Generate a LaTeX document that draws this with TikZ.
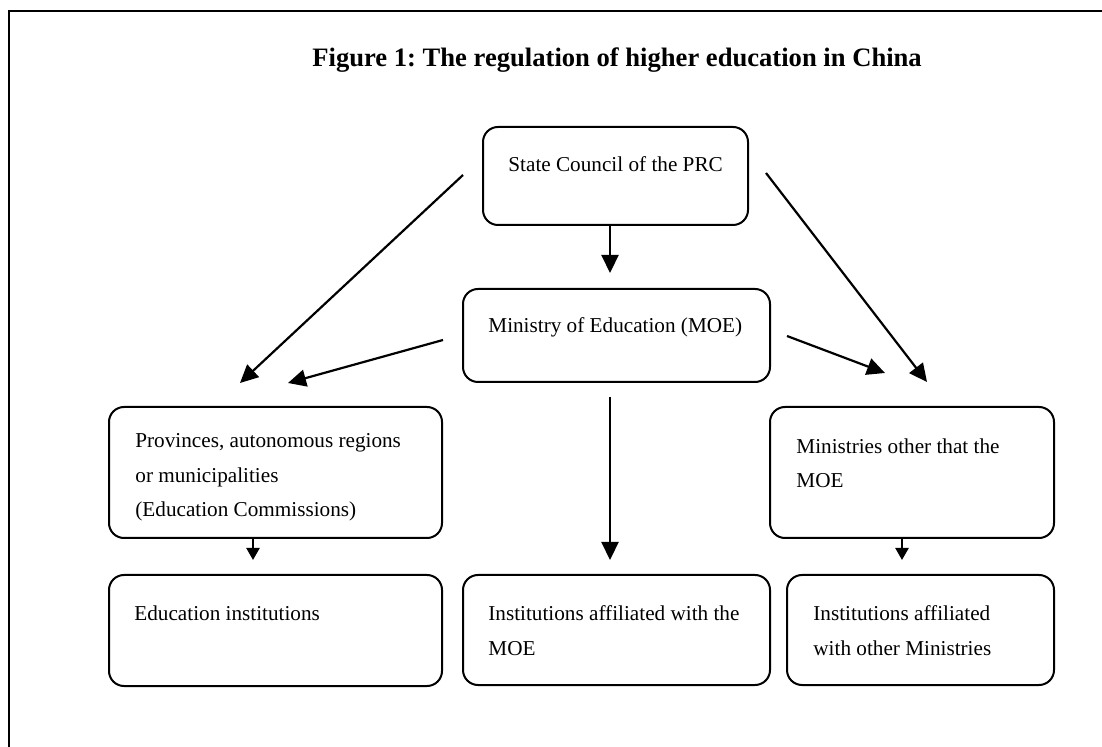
\documentclass[tikz,border=0pt]{standalone}
\usepackage{fontspec}
\setmainfont{Liberation Serif}
\usetikzlibrary{arrows.meta}
\frenchspacing
\begin{document}
\begin{tikzpicture}[x=0.5pt,y=-0.5pt,
  box/.style={draw, line width=1pt, rounded corners=7.5pt, inner sep=0pt},
  txt/.style={anchor=base west, inner sep=0pt, align=left, font=\fontsize{10.6}{17.25}\selectfont},
  arr/.style={line width=1.1pt, -{Triangle[length=9pt,width=8.5pt]}},
  sarr/.style={line width=1.1pt, -{Triangle[length=6pt,width=6.5pt]}}]
\useasboundingbox (0,0) rectangle (1102,747);
% frame
\draw[line width=1pt] (9,760) -- (9,11) -- (1110,11);
% title
\node[anchor=base west, inner sep=0pt, font=\bfseries\fontsize{13.3}{16}\selectfont] (title) at (312,67) {Figure 1: The regulation of higher education in China};
% boxes
\node[box, minimum width=132.5pt, minimum height=49pt] (sc) at (615.5,176) {};
\node[box, minimum width=153.5pt, minimum height=46.5pt] (moe) at (616.5,335.5) {};
\node[box, minimum width=166.5pt, minimum height=65.5pt] (prov) at (275.5,472.5) {};
\node[box, minimum width=142pt, minimum height=65.5pt] (mins) at (912,472.5) {};
\node[box, minimum width=166.5pt, minimum height=55.5pt] (edu) at (275.5,630.5) {};
\node[box, minimum width=153.5pt, minimum height=55pt] (imoe) at (616.5,630) {};
\node[box, minimum width=133.5pt, minimum height=55pt] (iother) at (920.5,630) {};
% texts (multi-line nodes: base = last line)
\node[txt] (sct) at (508,172) {State Council of the PRC};
\node[txt] (moet) at (488,333) {Ministry of Education (MOE)};
\node[txt] (provt) at (135,517) {Provinces, autonomous regions\\or municipalities\\(Education Commissions)};
\node[txt] (minst) at (796,488) {Ministries other that the\\MOE};
\node[txt] (edut) at (134,621) {Education institutions};
\node[txt] (imoet) at (488,655) {Institutions affiliated with the\\MOE};
\node[txt] (iothert) at (813,655) {Institutions affiliated\\with other Ministries};
% free arrow ends
\coordinate (a1e) at (610,273);
\coordinate (a2s) at (463,175);
\coordinate (a2e) at (240,383);
\coordinate (a3s) at (443,340);
\coordinate (a3e) at (288,383);
\coordinate (a4s) at (787,336);
\coordinate (a4e) at (885,373);
\coordinate (a5s) at (766,173);
\coordinate (a5e) at (927,382);
\coordinate (a6e) at (253,560);
\coordinate (a7s) at (610,397);
\coordinate (a7e) at (610,560);
\coordinate (a8e) at (902,560);
% arrows
\draw[arr] (sc.south -| a1e) -- (a1e);
\draw[arr] (a2s) -- (a2e);
\draw[arr] (a3s) -- (a3e);
\draw[arr] (a4s) -- (a4e);
\draw[arr] (a5s) -- (a5e);
\draw[sarr] (prov.south -| a6e) -- (a6e);
\draw[arr] (a7s) -- (a7e);
\draw[sarr] (mins.south -| a8e) -- (a8e);
\end{tikzpicture}
\end{document}
